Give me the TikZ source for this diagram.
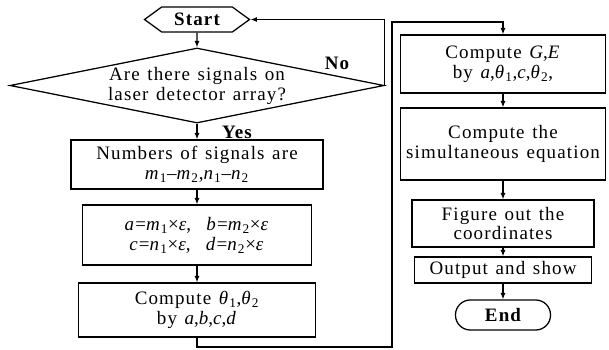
\documentclass[tikz,border=0pt]{standalone}
\usepackage{fontspec}
\setmainfont{Liberation Serif}[LetterSpace=6, WordSpace=1.3]
\usepackage{tikz}
\usetikzlibrary{shapes.geometric, shapes.symbols, arrows.meta, positioning}
\newcommand{\vv}[1]{\textit{#1}}
\newcommand{\flowfont}{\fontsize{13.5}{14.2}\selectfont}
\tikzset{
    startstop/.style={signal, signal to=west and east, signal pointer angle=72, draw=black, line width=0.9pt, inner sep=0pt, font=\flowfont\bfseries},
    endstop/.style  ={rectangle, rounded corners=0.37cm, draw=black, line width=0.9pt, inner sep=0pt, font=\flowfont\bfseries},
    process/.style  ={rectangle, draw=black, line width=0.9pt, align=center, inner sep=0pt},
    decision/.style ={diamond, aspect=4.9, draw=black, line width=0.9pt, align=center, inner sep=0pt},
    flowarrow/.style={-{Latex[length=1.6mm, width=1.3mm]}, line width=0.9pt},
}

\begin{document}
\begin{tikzpicture}[x=0.025cm, y=-0.025cm, font=\flowfont]
    \useasboundingbox (0,0) rectangle (609,349);
    % left column
    \node[startstop, minimum width=2.625cm, minimum height=0.625cm] (start) at (197,19.5) {Start};
    \node[decision, minimum width=9.35cm, minimum height=1.875cm] (dec) at (197,85.5) {Are there signals on\\laser detector array?};
    \node[process, minimum width=6.3cm, minimum height=1.225cm] (num) at (197,164.5)
        {Numbers of signals are\\\vv{m}\textsubscript{1}--\vv{m}\textsubscript{2},\vv{n}\textsubscript{1}--\vv{n}\textsubscript{2}};
    \node[process, minimum width=5.725cm, minimum height=1.5cm] (abcd) at (197,235)
        {\vv{a}=\vv{m}\textsubscript{1}×\vv{ε}, \ \vv{b}=\vv{m}\textsubscript{2}×\vv{ε}\\\vv{c}=\vv{n}\textsubscript{1}×\vv{ε}, \ \vv{d}=\vv{n}\textsubscript{2}×\vv{ε}};
    \node[process, minimum width=5.925cm, minimum height=1.35cm] (theta) at (197,310)
        {Compute \vv{θ}\textsubscript{1},\vv{θ}\textsubscript{2}\\by \vv{a},\vv{b},\vv{c},\vv{d}};
    % right column
    \node[process, minimum width=5.125cm, minimum height=1.45cm] (ge) at (503,64)
        {Compute \vv{G},\vv{E}\\by \vv{a},\vv{θ}\textsubscript{1},\vv{c},\vv{θ}\textsubscript{2},};
    \node[process, minimum width=5.125cm, minimum height=1.8cm] (simul) at (503,144) {Compute the\\simultaneous equation};
    \node[process, minimum width=4.55cm, minimum height=1.175cm] (coord) at (503,223.5) {Figure out the\\coordinates};
    \node[process, minimum width=4.425cm, minimum height=0.65cm] (out) at (503,270) {Output and show};
    \node[endstop, minimum width=2.375cm, minimum height=0.75cm] (end) at (503,315) {End};
    % labels
    \node[font=\flowfont\bfseries] (no) at (337,63) {No};
    \node[font=\flowfont\bfseries] (yes) at (237,132) {Yes};
    % connectors
    \coordinate (lb) at (392,347);
    \coordinate (lt) at (392,22);
    \draw[flowarrow] (start) -- (dec);
    \draw[flowarrow] (dec) -- (num);
    \draw[flowarrow] (num) -- (abcd);
    \draw[flowarrow] (abcd) -- (theta);
    \draw[flowarrow] (dec.east) -- (dec.east |- start.east) -- (start.east);
    \draw[flowarrow] (theta.south) |- (lb) -- (lt) -| (ge.north);
    \draw[flowarrow] (ge) -- (simul);
    \draw[flowarrow] (simul) -- (coord);
    \draw[flowarrow] (coord) -- (out);
    \draw[flowarrow] (out) -- (end);
\end{tikzpicture}
\end{document}
